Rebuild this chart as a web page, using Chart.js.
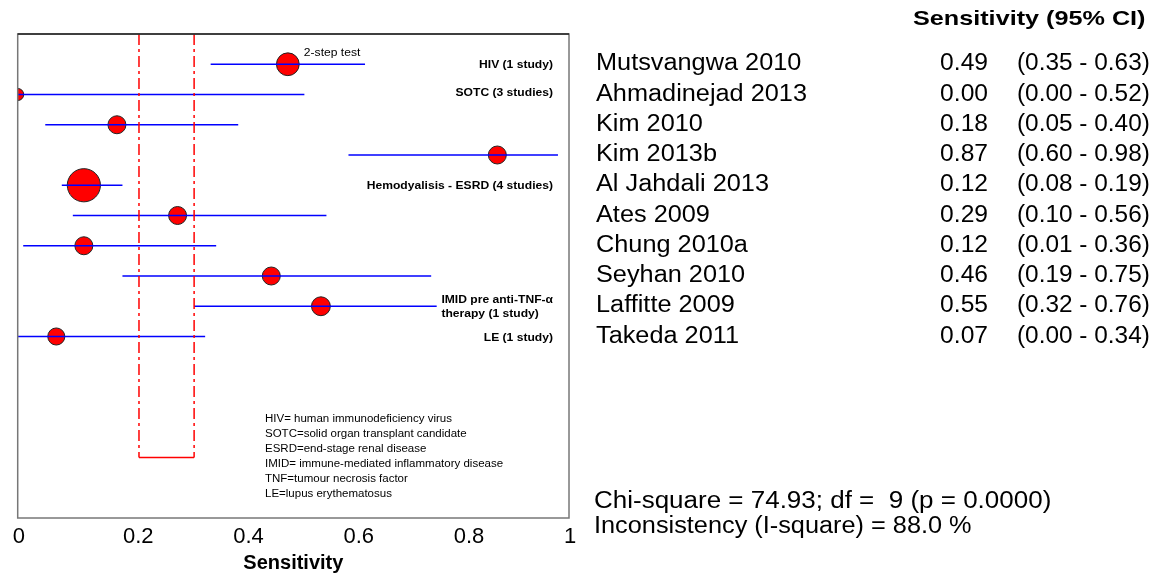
<!DOCTYPE html>
<html>
<head>
<meta charset="utf-8">
<title>Sensitivity forest plot</title>
<script src="https://cdn.jsdelivr.net/npm/chart.js@4.4.0/dist/chart.umd.min.js"></script>
<style>
  html, body { margin: 0; padding: 0; background: #fff; }
  #wrap { width: 1172px; height: 581px; }
</style>
</head>
<body>
<div id="wrap"><canvas id="forestChart" width="1172" height="581"></canvas></div>
<script>
// study rows, top to bottom
const studies = ['Mutsvangwa 2010', 'Ahmadinejad 2013', 'Kim 2010', 'Kim 2013b', 'Al Jahdali 2013',
                 'Ates 2009', 'Chung 2010a', 'Seyhan 2010', 'Laffitte 2009', 'Takeda 2011'];
const sensitivity = [0.49, 0.00, 0.18, 0.87, 0.12, 0.29, 0.12, 0.46, 0.55, 0.07];
const ciLower     = [0.35, 0.00, 0.05, 0.60, 0.08, 0.10, 0.01, 0.19, 0.32, 0.00];
const ciUpper     = [0.63, 0.52, 0.40, 0.98, 0.19, 0.56, 0.36, 0.75, 0.76, 0.34];
// relative study weight -> marker area
const studyWeight = [1.6, 0.45, 1, 1, 3.4, 1, 1, 1, 1.1, 0.9];
const studyNote   = ['2-step test', '', '', '', '', '', '', '', '', ''];

// subgroups: label lines and first study row of each group
const groupLabels = [['HIV (1 study)'], ['SOTC (3 studies)'], ['Hemodyalisis - ESRD (4 studies)'],
                     ['IMID pre anti-TNF-\u03b1', 'therapy (1 study)'], ['LE (1 study)']];
const groupStart  = [0, 1, 4, 8, 9];

const pooledCI = [0.22, 0.32];
const xTicks = [0, 0.2, 0.4, 0.6, 0.8, 1];

const abbreviations = [
  'HIV= human immunodeficiency virus',
  'SOTC=solid organ transplant candidate',
  'ESRD=end-stage renal disease',
  'IMID= immune-mediated inflammatory disease',
  'TNF=tumour necrosis factor',
  'LE=lupus erythematosus'
];
const chiSquare = 74.93, degFree = 9, pValue = 0.0000, iSquare = 88.0;

const FONT = "'Liberation Sans', Arial, sans-serif";
const TEXT_SX = 1.1;
const BOX_BOTTOM = 13;

function stretchedText(ctx, text, x, y, font, align, sx) {
  ctx.save();
  ctx.font = font;
  ctx.fillStyle = '#000';
  ctx.textAlign = align || 'left';
  ctx.textBaseline = 'alphabetic';
  ctx.translate(x, y);
  ctx.scale(sx || TEXT_SX, 1);
  ctx.fillText(text, 0, 0);
  ctx.restore();
}

const ciSets = studies.map((s, i) => ({
  type: 'line',
  data: [{ x: ciLower[i], y: i }, { x: ciUpper[i], y: i }],
  borderColor: '#0000ff',
  borderWidth: 1.5,
  pointRadius: 0,
  order: 2
}));

const pooledSets = pooledCI.map(v => ({
  type: 'line',
  data: [{ x: v, y: -1 }, { x: v, y: BOX_BOTTOM }],
  borderColor: '#ff0000',
  borderWidth: 1.5,
  borderDash: [11, 4, 3, 4],
  pointRadius: 0,
  order: 1
}));
pooledSets.push({
  type: 'line',
  data: [{ x: pooledCI[0], y: BOX_BOTTOM }, { x: pooledCI[1], y: BOX_BOTTOM }],
  borderColor: '#ff0000',
  borderWidth: 1.5,
  pointRadius: 0,
  order: 1
});

const markerSet = {
  type: 'scatter',
  data: sensitivity.map((v, i) => ({ x: v, y: i })),
  backgroundColor: '#ff0000',
  borderColor: '#222',
  borderWidth: 1,
  pointRadius: studyWeight.map(w => 9 * Math.sqrt(w)),
  order: 3
};

const forestText = {
  id: 'forestText',
  afterDraw(chart) {
    const ctx = chart.ctx;
    const area = chart.chartArea;
    const xs = chart.scales.x, ys = chart.scales.y;

    // frame
    ctx.save();
    ctx.strokeStyle = '#777';
    ctx.lineWidth = 1.5;
    ctx.strokeRect(area.left, area.top, area.right - area.left, area.bottom - area.top);
    ctx.strokeStyle = '#222';
    ctx.beginPath();
    ctx.moveTo(area.left, area.top);
    ctx.lineTo(area.right, area.top);
    ctx.stroke();
    ctx.restore();

    // subgroup labels, right edge inside the frame
    const labelRight = area.right - 16;
    groupLabels.forEach((lines, g) => {
      const font = 'bold 11px ' + FONT;
      ctx.font = font;
      const w = Math.max(...lines.map(t => ctx.measureText(t).width)) * TEXT_SX;
      const cy = ys.getPixelForValue(groupStart[g]) + (g === 1 ? -3 : 0);
      const y0 = cy - (lines.length - 1) * 7;
      lines.forEach((t, k) => stretchedText(ctx, t, labelRight - w, y0 + k * 14 + 4, font, 'left'));
    });

    // notes next to markers
    studyNote.forEach((t, i) => {
      if (!t) return;
      const px = xs.getPixelForValue(sensitivity[i]);
      stretchedText(ctx, t, px + 16, ys.getPixelForValue(i) - 8, '11px ' + FONT, 'left');
    });

    // abbreviation key
    abbreviations.forEach((t, k) => {
      stretchedText(ctx, t, 265, 422 + k * 15, '10px ' + FONT, 'left', 1.15);
    });

    // right-hand table
    stretchedText(ctx, 'Sensitivity (95% CI)', 913, 25, 'bold 21px ' + FONT, 'left', 1.2);
    studies.forEach((s, i) => {
      const y = ys.getPixelForValue(i) + 6;
      const font = '23px ' + FONT;
      stretchedText(ctx, s, 596, y, font, 'left');
      stretchedText(ctx, sensitivity[i].toFixed(2), 988, y, font, 'right', 1.07);
      stretchedText(ctx, '(' + ciLower[i].toFixed(2) + ' - ' + ciUpper[i].toFixed(2) + ')', 1017, y, font, 'left', 1.06);
    });
    stretchedText(ctx, 'Chi-square = ' + chiSquare.toFixed(2) + '; df =  ' + degFree +
      ' (p = ' + pValue.toFixed(4) + ')', 594, 508, '23px ' + FONT, 'left', 1.13);
    stretchedText(ctx, 'Inconsistency (I-square) = ' + iSquare.toFixed(1) + ' %', 594, 533, '23px ' + FONT, 'left');
  }
};

new Chart(document.getElementById('forestChart'), {
  data: { datasets: [markerSet, ...ciSets, ...pooledSets] },
  options: {
    responsive: false,
    animation: false,
    devicePixelRatio: 1,
    layout: { padding: { left: 17.7, right: 603, top: 34, bottom: 0 } },
    plugins: { legend: { display: false }, tooltip: { enabled: false } },
    scales: {
      x: {
        type: 'linear',
        min: 0,
        max: 1,
        afterBuildTicks: scale => { scale.ticks = xTicks.map(v => ({ value: v })); },
        afterFit: scale => { scale.height = 63; },
        grid: { display: false, drawTicks: false },
        border: { display: false },
        ticks: {
          align: 'start',
          labelOffset: -5,
          padding: 6,
          color: '#000',
          font: { family: FONT, size: 22 },
          callback: v => String(v)
        },
        title: {
          display: true,
          text: 'Sensitivity',
          color: '#000',
          font: { family: FONT, size: 20, weight: 'bold' },
          padding: { top: 0, bottom: 6 }
        }
      },
      y: {
        type: 'linear',
        min: -1,
        max: 15,
        reverse: true,
        display: false
      }
    }
  },
  plugins: [forestText]
});
</script>
</body>
</html>
